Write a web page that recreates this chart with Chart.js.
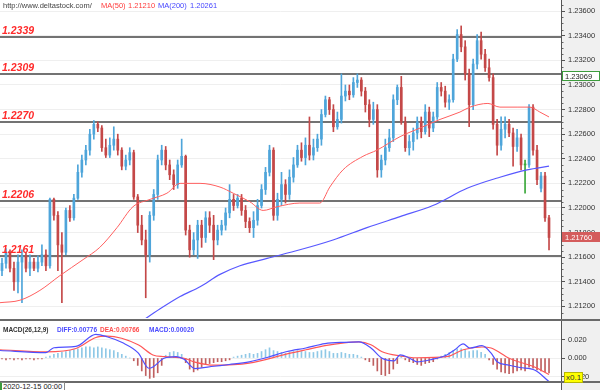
<!DOCTYPE html>
<html><head><meta charset="utf-8">
<script src="https://cdn.jsdelivr.net/npm/chart.js@4.4.0/dist/chart.umd.min.js"></script>
<style>
html,body{margin:0;padding:0;background:#fff;}
#wrap{position:relative;width:600px;height:390px;overflow:hidden;font-family:"Liberation Sans",Arial,sans-serif;background:#fff;}
.abs{position:absolute;white-space:nowrap;}
.t{font-size:7.5px;line-height:10px;}
.m{font-size:6.5px;line-height:9px;font-weight:bold;}
</style></head><body>
<div id="wrap">
<div class="abs" style="left:561px;top:0;width:39px;height:390px;background:#f0f0f0;"></div>
<canvas id="main" class="abs" style="left:0;top:0;" width="600" height="320"></canvas>
<canvas id="macd" class="abs" style="left:0;top:322px;" width="600" height="59"></canvas>
<div class="abs" style="left:561px;top:0;width:1px;height:390px;background:#555;"></div>
<div class="abs" style="left:0;top:319px;width:600px;height:2px;background:#6a6a6a;"></div>
<div class="abs" style="left:0;top:381px;width:600px;height:2px;background:#6a6a6a;"></div>
<div class="abs t" style="left:3px;top:1px;color:#444;">http://www.deltastock.com/</div>
<div class="abs t" style="left:101px;top:1px;color:#ff3b3b;">MA(50)</div>
<div class="abs t" style="left:128px;top:1px;color:#ff3b3b;">1.21210</div>
<div class="abs t" style="left:158px;top:1px;color:#4646ff;">MA(200)</div>
<div class="abs t" style="left:190px;top:1px;color:#4646ff;">1.20261</div>
<div class="abs m" style="left:3px;top:325px;color:#333;">MACD(26,12,9)</div>
<div class="abs m" style="left:57px;top:325px;color:#4b4bff;">DIFF:0.00776</div>
<div class="abs m" style="left:100px;top:325px;color:#ff4b4b;">DEA:0.00766</div>
<div class="abs m" style="left:149px;top:325px;color:#4b4bff;">MACD:0.00020</div>
<div class="abs" style="left:0;top:382px;width:61px;height:7px;font-size:7.5px;line-height:7px;color:#222;background:#fff;border:1px solid #888;border-left:2px solid #3c9a3c;padding-left:1px;">2020-12-15 00:00</div>
<div class="abs" style="left:564px;top:372px;font-size:8px;line-height:9px;color:#333;background:#ffff00;border:1px solid #b8b800;padding:0 1px;">x0.1</div>
</div>
<script>
const open=[1.2149,1.2155,1.2164,1.2151,1.2140,1.2156,1.2161,1.2151,1.2156,1.2151,
1.2156,1.2162,1.2153,1.2207,1.2194,1.2170,1.2164,1.2198,1.2192,1.2208,
1.2229,1.2239,1.2247,1.2260,1.2268,1.2265,1.2249,1.2243,1.2251,1.2256,
1.2247,1.2234,1.2239,1.2245,1.2209,1.2186,1.2174,1.2162,1.2194,1.2211,
1.2239,1.2247,1.2235,1.2227,1.2219,1.2235,1.2242,1.2182,1.2166,1.2174,
1.2186,1.2176,1.2192,1.2186,1.2174,1.2182,1.2186,1.2196,1.2207,1.2202,
1.2208,1.2198,1.2189,1.2184,1.2190,1.2202,1.2215,1.2229,1.2247,1.2194,
1.2207,1.2219,1.2211,1.2225,1.2235,1.2247,1.2241,1.2251,1.2243,1.2249,
1.2256,1.2276,1.2288,1.2280,1.2266,1.2272,1.2291,1.2295,1.2292,1.2302,
1.2304,1.2295,1.2284,1.2272,1.2280,1.2231,1.2239,1.2249,1.2257,1.2288,
1.2298,1.2270,1.2249,1.2254,1.2261,1.2270,1.2262,1.2278,1.2265,1.2274,
1.2298,1.2295,1.2286,1.2288,1.2321,1.2341,1.2331,1.2309,1.2284,1.2317,
1.2336,1.2325,1.2314,1.2306,1.2268,1.2251,1.2264,1.2268,1.2261,1.2250,
1.2257,1.2235,1.2235,1.2282,1.2247,1.2216,1.2226,1.2192];
const high=[1.2159,1.2167,1.2166,1.2156,1.2162,1.2166,1.2164,1.2162,1.2159,1.2161,
1.2170,1.2166,1.2208,1.2208,1.2197,1.2180,1.2200,1.2202,1.2211,1.2235,
1.2243,1.2251,1.2264,1.2271,1.2270,1.2267,1.2256,1.2257,1.2266,1.2260,
1.2249,1.2243,1.2249,1.2247,1.2211,1.2194,1.2182,1.2197,1.2215,1.2243,
1.2251,1.2250,1.2239,1.2231,1.2239,1.2256,1.2243,1.2186,1.2180,1.2190,
1.2190,1.2197,1.2197,1.2194,1.2186,1.2190,1.2200,1.2219,1.2211,1.2211,
1.2211,1.2202,1.2192,1.2197,1.2207,1.2219,1.2233,1.2251,1.2249,1.2212,
1.2229,1.2223,1.2231,1.2241,1.2251,1.2253,1.2257,1.2274,1.2256,1.2260,
1.2280,1.2291,1.2290,1.2284,1.2278,1.2309,1.2300,1.2300,1.2306,1.2309,
1.2306,1.2298,1.2288,1.2286,1.2284,1.2243,1.2256,1.2264,1.2292,1.2300,
1.2307,1.2274,1.2259,1.2265,1.2274,1.2274,1.2284,1.2282,1.2278,1.2302,
1.2302,1.2299,1.2292,1.2325,1.2345,1.2348,1.2336,1.2313,1.2321,1.2341,
1.2343,1.2329,1.2321,1.2309,1.2272,1.2274,1.2274,1.2272,1.2265,1.2264,
1.2260,1.2239,1.2284,1.2284,1.2251,1.2229,1.2229,1.2194];
const low=[1.2145,1.2151,1.2148,1.2133,1.2131,1.2123,1.2148,1.2145,1.2149,1.2148,
1.2153,1.2149,1.2151,1.2190,1.2149,1.2123,1.2162,1.2189,1.2190,1.2207,
1.2225,1.2235,1.2243,1.2256,1.2262,1.2246,1.2241,1.2241,1.2247,1.2243,
1.2231,1.2231,1.2235,1.2207,1.2180,1.2170,1.2127,1.2156,1.2190,1.2207,
1.2235,1.2231,1.2223,1.2215,1.2216,1.2233,1.2178,1.2160,1.2162,1.2159,
1.2168,1.2172,1.2180,1.2158,1.2170,1.2178,1.2182,1.2192,1.2198,1.2200,
1.2194,1.2184,1.2180,1.2176,1.2186,1.2200,1.2211,1.2226,1.2190,1.2190,
1.2202,1.2204,1.2207,1.2221,1.2233,1.2238,1.2235,1.2239,1.2239,1.2246,
1.2251,1.2274,1.2276,1.2262,1.2264,1.2269,1.2287,1.2288,1.2290,1.2298,
1.2291,1.2278,1.2266,1.2268,1.2225,1.2225,1.2235,1.2246,1.2254,1.2284,
1.2268,1.2246,1.2243,1.2247,1.2256,1.2257,1.2260,1.2258,1.2262,1.2272,
1.2291,1.2282,1.2280,1.2286,1.2319,1.2327,1.2304,1.2266,1.2280,1.2313,
1.2321,1.2311,1.2303,1.2264,1.2243,1.2247,1.2257,1.2258,1.2234,1.2246,
1.2231,1.2212,1.2233,1.2243,1.2219,1.2213,1.2189,1.2166];
const close=[1.2155,1.2164,1.2151,1.2140,1.2156,1.2161,1.2151,1.2156,1.2151,1.2156,
1.2162,1.2153,1.2207,1.2194,1.2170,1.2164,1.2198,1.2192,1.2208,1.2229,
1.2239,1.2247,1.2260,1.2268,1.2265,1.2249,1.2243,1.2251,1.2256,1.2247,
1.2234,1.2239,1.2245,1.2209,1.2186,1.2174,1.2162,1.2194,1.2211,1.2239,
1.2247,1.2235,1.2227,1.2219,1.2235,1.2242,1.2182,1.2166,1.2174,1.2186,
1.2176,1.2192,1.2186,1.2174,1.2182,1.2186,1.2196,1.2207,1.2202,1.2208,
1.2198,1.2189,1.2184,1.2190,1.2202,1.2215,1.2229,1.2247,1.2194,1.2207,
1.2219,1.2211,1.2225,1.2235,1.2247,1.2241,1.2251,1.2243,1.2249,1.2256,
1.2276,1.2288,1.2280,1.2266,1.2272,1.2291,1.2295,1.2292,1.2302,1.2304,
1.2295,1.2284,1.2272,1.2280,1.2231,1.2239,1.2249,1.2257,1.2288,1.2298,
1.2270,1.2249,1.2254,1.2261,1.2270,1.2262,1.2278,1.2265,1.2274,1.2298,
1.2295,1.2286,1.2288,1.2321,1.2341,1.2331,1.2309,1.2284,1.2317,1.2336,
1.2325,1.2314,1.2306,1.2268,1.2251,1.2264,1.2268,1.2261,1.2250,1.2257,
1.2235,1.2235,1.2282,1.2247,1.2223,1.2226,1.2192,1.2176];
const hist=[-0.001,-0.002,-0.001,-0.002,-0.001,-0.002,-0.001,-0.001,-0.002,-0.001,
-0.001,0.001,0.002,0.004,0.005,0.006,0.007,0.008,0.009,0.010,
0.011,0.012,0.012,0.011,0.012,0.011,0.010,0.009,0.008,0.006,
0.004,0.002,0.000,-0.003,-0.008,-0.014,-0.019,-0.022,-0.021,-0.016,
-0.008,0.003,0.006,0.007,0.006,0.004,-0.005,-0.012,-0.015,-0.013,
-0.010,-0.007,-0.006,-0.005,-0.004,-0.004,-0.003,-0.002,0.001,0.002,
0.003,0.004,0.005,0.004,0.005,0.007,0.009,0.011,0.008,0.007,
0.006,0.005,0.006,0.007,0.008,0.007,0.007,0.006,0.006,0.007,
0.008,0.009,0.007,0.005,0.005,0.006,0.005,0.004,0.004,0.003,
0.001,-0.002,-0.004,-0.008,-0.014,-0.018,-0.019,-0.017,-0.012,-0.006,
0.002,-0.002,-0.004,-0.005,-0.007,-0.008,-0.006,-0.005,-0.004,-0.001,
0.002,0.004,0.006,0.008,0.010,0.010,0.009,0.007,0.008,0.008,
0.006,0.004,-0.002,-0.007,-0.012,-0.015,-0.016,-0.017,-0.016,-0.014,
-0.013,-0.014,-0.010,-0.011,-0.013,-0.014,-0.015,-0.016];
const ma50Idx=[-0.5,4.5,9.5,14.5,20.3,24.5,28.8,32.8,37.1,41.3,44.6,49.6,54.6,57.9,62.1,65.4,68.9,74.6,79.6,82.1,85.4,90.4,93.9,99.7,104.7,109.7,114.7,117.2,121.7,124.7,129,132.2,134.7,137];
const ma50Val=[1.2123,1.2125,1.2133,1.2145,1.2158,1.2168,1.2184,1.2201,1.2207,1.2212,1.2220,1.2220,1.2217,1.2212,1.2205,1.2198,1.2201,1.2204,1.2204,1.2217,1.2231,1.2242,1.2247,1.2258,1.2265,1.2272,1.2278,1.2282,1.2285,1.2282,1.2282,1.2282,1.2278,1.2274];
const ma200Idx=[34.6,39.6,44.6,49.6,54.6,59.6,66.4,74.6,82.9,91.4,99.7,107.9,116.5,124.7,131.5,137];
const ma200Val=[1.2107,1.2118,1.2128,1.2136,1.2146,1.2153,1.2159,1.2166,1.2174,1.2184,1.2193,1.2202,1.2216,1.2225,1.2231,1.2234];
const diffIdx=[-0.5,11,13,18.5,23.5,26.3,30.1,34.1,36.8,37.8,40.6,43.6,45.6,48.3,53.1,56.9,61.9,66.6,71.4,76.1,80.9,85.7,89.4,92.4,95.2,98.2,99.7,101.9,103.9,107.7,111.4,113.4,115.5,117.2,120.2,122.5,124,127,129.7,133.5,137];
const diffVal=[0.0081,0.0059,0.0111,0.0125,0.0255,0.0230,0.0167,0.0056,-0.0111,-0.0097,-0.0003,0.0014,-0.0014,-0.0114,-0.0089,-0.0070,-0.0041,0.0008,0.0070,0.0108,0.0155,0.0170,0.0174,0.0108,-0.0003,-0.0030,0.0033,0.0003,-0.0041,-0.0014,0.0033,0.0089,0.0152,0.0108,0.0133,0.0052,-0.0041,-0.0078,-0.0103,-0.0133,-0.0255];
const deaIdx=[-0.5,11,18.5,23.5,26.3,34.1,37.8,40.6,45.6,48.3,53.1,61.9,71.4,76.1,80.9,85.7,89.4,92.4,95.2,99.7,103.9,111.4,115.5,120.2,122.5,127,133.5,137];
const deaVal=[0.0089,0.0067,0.0103,0.0222,0.0236,0.0144,0.0033,0.0014,-0.0003,-0.0044,-0.0078,-0.0056,0.0044,0.0089,0.0133,0.0163,0.0174,0.0144,0.0067,0.0022,0.0003,0.0014,0.0089,0.0119,0.0108,-0.0003,-0.0100,-0.0178];
const levels=[1.2339,1.2309,1.2270,1.2206,1.2161];
const priceTicks=[1.212,1.214,1.216,1.218,1.220,1.222,1.224,1.226,1.228,1.230,1.232,1.234,1.236];
const macdTicks=[-0.02,0,0.02];
const markPrice=1.23069, lastPrice=1.2176;

const FONT='"Liberation Sans", Arial, sans-serif';
Chart.defaults.font.family=FONT;
const UP='#4ea5da', DOWN='#c44848', DOJI='#3aa83a';
const idx=open.map((_,i)=>i);
const col=idx.map(i=>close[i]>open[i]?UP:(close[i]<open[i]?DOWN:DOJI));
const pts=(xs,ys)=>xs.map((x,k)=>({x:x,y:ys[k]}));
const X_MIN=-0.5, X_MAX=140;
function xScale(){return {type:'linear',min:X_MIN,max:X_MAX,display:false,offset:false,bounds:'data',grace:0,
  afterBuildTicks(s){s.ticks=[{value:X_MIN},{value:X_MAX}];s.min=X_MIN;s.max=X_MAX;},
  afterFit(s){s.paddingLeft=0;s.paddingRight=0;}};}
function yScale(mn,mx,tks,dec){return {type:'linear',position:'right',min:mn,max:mx,bounds:'data',grace:0,
  afterFit(a){a.width=39;a.paddingTop=0;a.paddingBottom=0;},
  afterBuildTicks(a){a.ticks=tks.map(v=>({value:v}));a.min=mn;a.max=mx;},
  ticks:{callback:v=>Number(v).toFixed(dec),color:'#333',font:{size:7.5},padding:3,autoSkip:false},
  grid:{color:'#efefef',tickColor:'#555',tickLength:4},border:{color:'#555'}};}

const mainPlugin={id:'mainDeco',
 beforeDatasetsDraw(chart){
  const {ctx,chartArea:a,scales:{y}}=chart;
  ctx.save();ctx.strokeStyle='#737373';ctx.lineWidth=2;
  levels.forEach(v=>{const py=Math.round(y.getPixelForValue(v));ctx.beginPath();ctx.moveTo(a.left,py);ctx.lineTo(a.right,py);ctx.stroke();});
  ctx.restore();
 },
 afterDatasetsDraw(chart){
  const {ctx,scales:{y}}=chart;
  ctx.save();ctx.fillStyle='#ff2b2b';ctx.font='italic bold 10.5px '+FONT;ctx.textBaseline='alphabetic';
  levels.forEach(v=>{const py=Math.round(y.getPixelForValue(v));ctx.fillText(v.toFixed(4),2,py-3);});
  ctx.restore();
 },
 afterDraw(chart){
  const {ctx,chartArea:a,scales:{y}}=chart;
  ctx.save();ctx.strokeStyle='#666';ctx.lineWidth=1;
  for(let k=0;k<=50;k++){const v=1.2115+k*0.0005;if(Math.abs(v*1000/2-Math.round(v*1000/2))<0.01)continue;
   const py=Math.round(y.getPixelForValue(v))+0.5;if(py<a.top||py>a.bottom)continue;ctx.beginPath();ctx.moveTo(a.right,py);ctx.lineTo(a.right+2.5,py);ctx.stroke();}
  ctx.font='7.5px '+FONT;ctx.textBaseline='middle';
  let py=Math.round(y.getPixelForValue(markPrice));
  ctx.fillStyle='#fff';ctx.fillRect(a.right+1,py-5,38,10);ctx.strokeStyle='#3c9c3c';ctx.strokeRect(a.right+1.5,py-4.5,37,9);
  ctx.fillStyle='#222';ctx.fillText(markPrice.toFixed(5),a.right+4,py+0.5);
  py=Math.round(y.getPixelForValue(lastPrice));
  ctx.fillStyle='#d45c5c';ctx.fillRect(a.right+1,py-5,38,10);
  ctx.fillStyle='#fff';ctx.fillText(lastPrice.toFixed(5),a.right+4,py+0.5);
  ctx.restore();
 }
};

new Chart(document.getElementById('main'),{
 type:'bar',
 data:{datasets:[
  {type:'line',label:'MA(50)',data:pts(ma50Idx,ma50Val),borderColor:'#ff5f5f',borderWidth:1,pointRadius:0,cubicInterpolationMode:'monotone',order:0},
  {type:'line',label:'MA(200)',data:pts(ma200Idx,ma200Val),borderColor:'#5858ff',borderWidth:1.2,pointRadius:0,cubicInterpolationMode:'monotone',order:0},
  {label:'body',data:idx.map(i=>({x:i,y:[open[i],close[i]]})),backgroundColor:col,barThickness:2,grouped:false,minBarLength:1,order:1},
  {label:'wick',data:idx.map(i=>({x:i,y:[low[i],high[i]]})),backgroundColor:col,barThickness:1,grouped:false,order:2}
 ]},
 options:{responsive:false,animation:false,events:[],
  layout:{padding:{top:1,bottom:2,left:0,right:0}},
  plugins:{legend:{display:false},tooltip:{enabled:false}},
  scales:{x:xScale(),y:yScale(1.211055,1.236827,priceTicks,5)}
 },
 plugins:[mainPlugin]
});

new Chart(document.getElementById('macd'),{
 type:'bar',
 data:{datasets:[
  {type:'line',label:'DIFF',data:pts(diffIdx,diffVal),borderColor:'#4f4fff',borderWidth:1.2,pointRadius:0,cubicInterpolationMode:'monotone',order:0},
  {type:'line',label:'DEA',data:pts(deaIdx,deaVal),borderColor:'#ff5757',borderWidth:1.2,pointRadius:0,cubicInterpolationMode:'monotone',order:0},
  {label:'MACD',data:idx.map(i=>({x:i,y:hist[i]})),backgroundColor:hist.map(v=>v>=0?'#8fc8e6':'#bf5f5f'),barThickness:1,grouped:false,order:1}
 ]},
 options:{responsive:false,animation:false,events:[],
  layout:{padding:0},
  plugins:{legend:{display:false},tooltip:{enabled:false}},
  scales:{x:xScale(),y:yScale(-0.02486,0.03892,macdTicks,3)}
 }
});
</script>
</body></html>
